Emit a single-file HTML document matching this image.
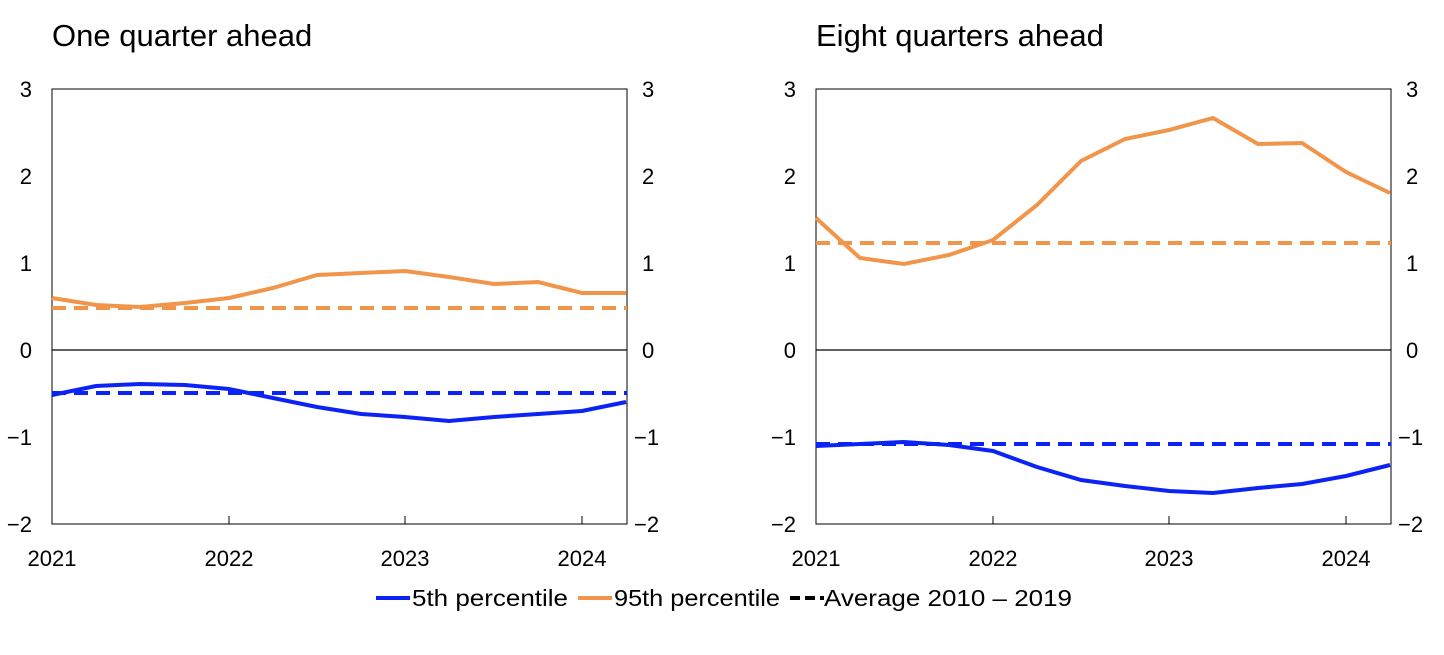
<!DOCTYPE html>
<html><head><meta charset="utf-8"><style>
body{margin:0;background:#fff}
svg text{font-family:"Liberation Sans",Arial,sans-serif;fill:#000}
</style></head><body>
<svg width="1444" height="650" viewBox="0 0 1444 650" xmlns="http://www.w3.org/2000/svg">
<text x="52" y="46" font-size="31">One quarter ahead</text>
<text x="816" y="46" font-size="31">Eight quarters ahead</text>
<g font-size="22">
<!-- left panel -->
<rect x="52" y="89" width="575" height="435" fill="none" stroke="#000" stroke-width="1"/>
<line x1="52" y1="350" x2="627" y2="350" stroke="#000" stroke-width="1.2"/>
<g text-anchor="end"><text x="32" y="97">3</text><text x="32" y="184">2</text><text x="32" y="271">1</text><text x="32" y="358">0</text><text x="32" y="445">−1</text><text x="32" y="532">−2</text></g>
<g><text x="642" y="97">3</text><text x="642" y="184">2</text><text x="642" y="271">1</text><text x="642" y="358">0</text><text x="634" y="445">−1</text><text x="634" y="532">−2</text></g>
<g text-anchor="middle"><text x="52" y="566">2021</text><text x="229" y="566">2022</text><text x="405" y="566">2023</text><text x="582" y="566">2024</text></g>
<g stroke="#000"><line x1="229" y1="524" x2="229" y2="516"/><line x1="405" y1="524" x2="405" y2="516"/><line x1="582" y1="524" x2="582" y2="516"/></g>
<line x1="52" y1="308" x2="627" y2="308" stroke="#f0954a" stroke-width="4" stroke-dasharray="14,8"/>
<line x1="52" y1="393" x2="627" y2="393" stroke="#0b24f5" stroke-width="4" stroke-dasharray="14,8"/>
<polyline fill="none" stroke="#f0954a" stroke-width="4" points="52,298 96,305 140,307 185,303 229,298 273,288 317,275 361,273 405,271 449,277 494,284 538,282 582,293 626,293"/>
<polyline fill="none" stroke="#0b24f5" stroke-width="4" points="52,395 96,386 140,384 185,385 229,389 273,398 317,407 361,414 405,417 449,421 494,417 538,414 582,411 626,402"/>
<!-- right panel -->
<rect x="816" y="89" width="575" height="435" fill="none" stroke="#000" stroke-width="1"/>
<line x1="816" y1="350" x2="1391" y2="350" stroke="#000" stroke-width="1.2"/>
<g text-anchor="end"><text x="796" y="97">3</text><text x="796" y="184">2</text><text x="796" y="271">1</text><text x="796" y="358">0</text><text x="796" y="445">−1</text><text x="796" y="532">−2</text></g>
<g><text x="1406" y="97">3</text><text x="1406" y="184">2</text><text x="1406" y="271">1</text><text x="1406" y="358">0</text><text x="1398" y="445">−1</text><text x="1398" y="532">−2</text></g>
<g text-anchor="middle"><text x="816" y="566">2021</text><text x="993" y="566">2022</text><text x="1169" y="566">2023</text><text x="1346" y="566">2024</text></g>
<g stroke="#000"><line x1="993" y1="524" x2="993" y2="516"/><line x1="1169" y1="524" x2="1169" y2="516"/><line x1="1346" y1="524" x2="1346" y2="516"/></g>
<line x1="816" y1="243" x2="1391" y2="243" stroke="#f0954a" stroke-width="4" stroke-dasharray="14,8"/>
<line x1="816" y1="444" x2="1391" y2="444" stroke="#0b24f5" stroke-width="4" stroke-dasharray="14,8"/>
<polyline fill="none" stroke="#f0954a" stroke-width="4" points="816,218 860,258 904,264 949,255 993,240 1037,205 1081,161 1125,139 1169,130 1213,118 1258,144 1302,143 1346,172 1390,193"/>
<polyline fill="none" stroke="#0b24f5" stroke-width="4" points="816,446 860,444 904,442 949,445 993,451 1037,467 1081,480 1125,486 1169,491 1213,493 1258,488 1302,484 1346,476 1390,465"/>
<!-- legend -->
<line x1="376" y1="598" x2="410" y2="598" stroke="#0b24f5" stroke-width="4"/>
<text x="412" y="606" font-size="23" textLength="156" lengthAdjust="spacingAndGlyphs">5th percentile</text>
<line x1="578" y1="598" x2="612" y2="598" stroke="#f0954a" stroke-width="4"/>
<text x="614" y="606" font-size="23" textLength="166" lengthAdjust="spacingAndGlyphs">95th percentile</text>
<line x1="790" y1="598" x2="824" y2="598" stroke="#000" stroke-width="4" stroke-dasharray="10,5"/>
<text x="824" y="606" font-size="23" textLength="248" lengthAdjust="spacingAndGlyphs">Average 2010 – 2019</text>
</g>
</svg>
</body></html>
